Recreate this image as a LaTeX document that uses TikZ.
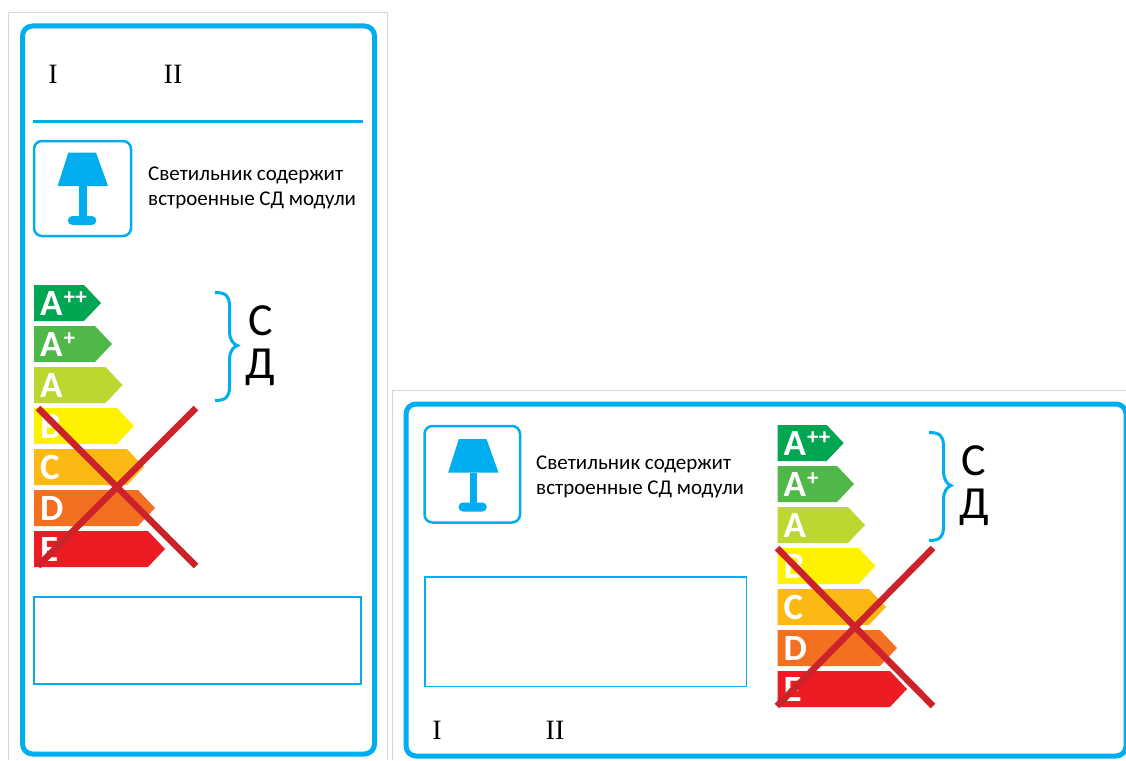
\documentclass[tikz,border=0pt]{standalone}
\usepackage{fontspec}
\setmainfont{Carlito}
\newfontfamily\romanfont{Liberation Serif}
\definecolor{bluec}{HTML}{00AEEF}
\definecolor{crossc}{HTML}{CC2229}
\definecolor{grayc}{HTML}{D4D4D4}
\definecolor{eA}{HTML}{00A651}
\definecolor{eB}{HTML}{50B848}
\definecolor{eC}{HTML}{BED630}
\definecolor{eD}{HTML}{FFF200}
\definecolor{eE}{HTML}{FDB913}
\definecolor{eF}{HTML}{F37021}
\definecolor{eG}{HTML}{ED1C24}
\tikzset{
  x=1pt,y=-1pt,
  panel/.style={draw=grayc,line width=1pt},
  frame/.style={draw=bluec,line width=5pt,rounded corners=10pt},
  iconbox/.style={draw=bluec,line width=2.5pt,rounded corners=8pt},
  plainbox/.style={draw=bluec,line width=1.5pt},
  rule/.style={draw=bluec,line width=3pt},
  crossline/.style={draw=crossc,line width=6.5pt},
  bracket/.style={draw=bluec,line width=3pt},
  caption/.style={font=\fontsize{21}{25}\selectfont,align=left,anchor=west,inner sep=0pt,text=black},
  roman/.style={font=\romanfont\fontsize{28}{28}\selectfont,inner sep=0pt,text=black},
  big/.style={font=\fontsize{46}{43}\selectfont,inner sep=0pt,text=black,align=center},
  grade/.style={font=\bfseries\fontsize{37}{37}\selectfont,text=white,inner sep=0pt,anchor=base west},
}
\newcommand{\gradebar}[6]{% x, top y, tip x, colour, name, text
  \fill[#4] (#1,#2) -- (#3-17,#2) -- (#3,#2+18) -- (#3-17,#2+36) -- (#1,#2+36) -- cycle;
  \node[grade] (#5) at (#1+6,#2+30) {#6};
}
\newcommand{\supmark}[1]{\hspace{1pt}\raisebox{11pt}{\fontsize{23}{23}\selectfont #1}}
\newcommand{\lampicon}[2]{% x, y offset of frame top-left
  \begin{scope}[shift={(#1,#2)}]
  \fill[bluec] (34.3,11.6) -- (62,11.6) -- (74,45) -- (23.7,45) -- cycle;
  \fill[bluec] (45,45) rectangle (52.5,78);
  \fill[bluec,rounded corners=4.4pt] (34,75) rectangle (62.3,84);
  \end{scope}
}
\begin{document}
\begin{tikzpicture}
\useasboundingbox (0,0) rectangle (1126,760);
\fill[white] (0,0) rectangle (1126,760);
\clip (0,0) rectangle (1126,760);
% left panel
\draw[panel] (8.5,13) -- (387.5,13) -- (387.5,760);
\draw[panel] (8.5,13) -- (8.5,760);
\draw[frame] (22.5,26) rectangle (374.5,754);
\node[roman] (li) at (53,74) {I};
\node[roman] (lii) at (173,74) {II};
\draw[rule] (33,121) -- (363,121);
\draw[iconbox] (34,141) rectangle (131,236);
\lampicon{34}{141}
\node[caption] (lcap) at (148,188) {Светильник содержит\\встроенные СД модули};
\gradebar{34}{285}{101}{eA}{la}{A\supmark{++}}
\gradebar{34}{326}{112}{eB}{lb}{A\supmark{+}}
\gradebar{34}{367}{122.5}{eC}{lc}{A}
\gradebar{34}{408}{134}{eD}{ld}{B}
\gradebar{34}{449}{144}{eE}{le}{C}
\gradebar{34}{490}{155}{eF}{lf}{D}
\gradebar{34}{531}{165}{eG}{lg}{E}
\draw[bracket] (215,292.5) .. controls (226,292.5) and (229,296) .. (229.5,305) -- (229.5,332) .. controls (230,340) and (233,344) .. (237.5,345.5) .. controls (233,347) and (230,351) .. (229.5,359) -- (229.5,388) .. controls (229,397) and (226,400.5) .. (215,400.5);
\node[big] (lsd) at (260.3,345.5) {С\\Д};
\coordinate (xa) at (38,408); \coordinate (xb) at (196,566);
\coordinate (xc) at (196,408); \coordinate (xd) at (38,566);
\draw[crossline] (xa) -- (xb);
\draw[crossline] (xc) -- (xd);
\draw[plainbox] (34,597) rectangle (361,684);
% right panel
\draw[panel] (392.5,760) -- (392.5,390.5) -- (1126,390.5);
\draw[frame] (406,404) rectangle (1126,756);
\draw[iconbox] (424.5,426) rectangle (520,522.5);
\lampicon{424.5}{427.5}
\node[caption] (rcap) at (536,477) {Светильник содержит\\встроенные СД модули};
\gradebar{777.5}{425}{843.7}{eA}{ra}{A\supmark{++}}
\gradebar{777.5}{466}{854}{eB}{rb}{A\supmark{+}}
\gradebar{777.5}{507}{865}{eC}{rc}{A}
\gradebar{777.5}{548}{875.5}{eD}{rd}{B}
\gradebar{777.5}{589}{886}{eE}{re}{C}
\gradebar{777.5}{630}{897}{eF}{rf}{D}
\gradebar{777.5}{671}{907}{eG}{rg}{E}
\draw[bracket] (929,432.5) .. controls (940,432.5) and (943,436) .. (943.5,445) -- (943.5,472) .. controls (944,480) and (947,484) .. (951,485.5) .. controls (947,487) and (944,491) .. (943.5,499) -- (943.5,528) .. controls (943,537) and (940,540.5) .. (929,540.5);
\node[big] (rsd) at (974,485.5) {С\\Д};
\coordinate (ya) at (777,548); \coordinate (yb) at (933,706);
\coordinate (yc) at (933,548); \coordinate (yd) at (777,706);
\draw[crossline] (ya) -- (yb);
\draw[crossline] (yc) -- (yd);
\draw[plainbox] (425,577) rectangle (746.7,686.7);
\node[roman] (ri) at (437,730) {I};
\node[roman] (rii) at (555,730) {II};
\end{tikzpicture}
\end{document}
